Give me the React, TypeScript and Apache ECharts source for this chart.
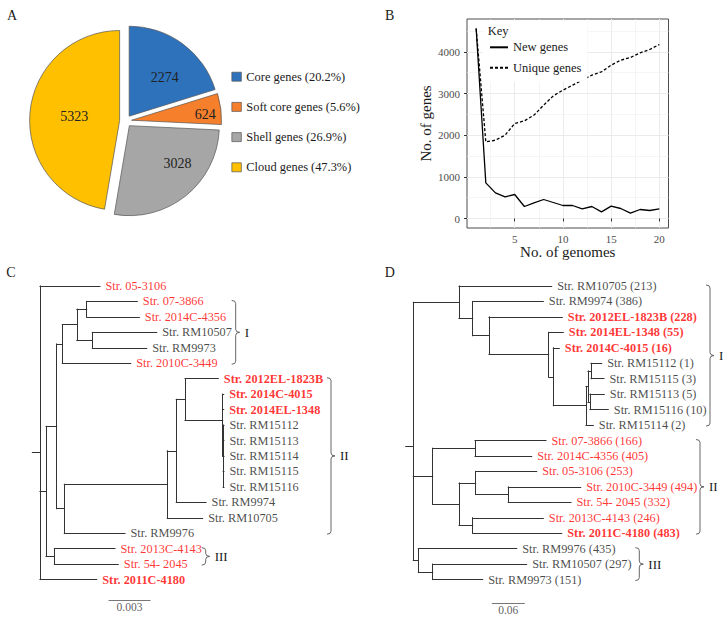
import React, { useEffect, useRef } from "react";
import * as echarts from "echarts";

const SERIF = '"Liberation Serif", "Times New Roman", Times, serif';
const INK = "#1a1a1a";
const RED = "#ff0000";
const BRANCH = "#333333";

// ---------- Panel A: pan-genome composition ----------
const pieCategories = [
  "Core genes (20.2%)",
  "Soft core genes (5.6%)",
  "Shell genes (26.9%)",
  "Cloud genes (47.3%)",
];
const pieValues = [2274, 624, 3028, 5323];
const pieColors = ["#2E72BC", "#F67F2B", "#A6A6A6", "#FFC000"];

// ---------- Panel B: gene accumulation ----------
const genomeCounts = [1, 2, 3, 4, 5, 6, 7, 8, 9, 10, 11, 12, 13, 14, 15, 16, 17, 18, 19, 20];
const newGenes = [4560, 856, 616, 520, 576, 288, 376, 456, 384, 312, 312, 232, 288, 160, 296, 240, 128, 216, 192, 232];
const uniqueGenes = [4560, 1840, 1880, 2000, 2280, 2344, 2480, 2720, 2944, 3080, 3200, 3320, 3440, 3520, 3680, 3800, 3864, 3976, 4056, 4176];
const curveNames = ["New genes", "Unique genes"];
const bYTicks = [0, 1000, 2000, 3000, 4000];
const bXTicks = [5, 10, 15, 20];
const bYMinor = [500, 1500, 2500, 3500, 4500];
const bXMinor = [2.5, 7.5, 12.5, 17.5];

// ---------- Panel C: tree (internal nodes: id, parent, depth) ----------
const treeCNodes: [string, string, number][] = [
  ["root", "", 0],
  ["c1", "root", 0.00044],
  ["c2", "c1", 0.00122],
  ["cI", "c2", 0.00163],
  ["c3", "cI", 0.00269],
  ["c4", "c3", 0.00342],
  ["c5", "c3", 0.00383],
  ["c6", "c2", 0.00178],
  ["c7", "c6", 0.00931],
  ["c8", "c7", 0.00997],
  ["c9", "c8", 0.01061],
  ["c10", "c9", 0.01337],
  ["c11", "c10", 0.0134],
  ["cIII", "c1", 0.00105],
];
// leaves: label, parent, depth, style (0 black, 1 red, 2 red bold)
const treeCLeaves: [string, string, number, number][] = [
  ["Str. 05-3106", "root", 0.00439, 1],
  ["Str. 07-3866", "c4", 0.00712, 1],
  ["Str. 2014C-4356", "c4", 0.00727, 1],
  ["Str. RM10507", "c5", 0.00854, 0],
  ["Str. RM9973", "c5", 0.00781, 0],
  ["Str. 2010C-3449", "cI", 0.00664, 1],
  ["Str. 2012EL-1823B", "c9", 0.01305, 2],
  ["Str. 2014C-4015", "c10", 0.01344, 2],
  ["Str. 2014EL-1348", "c10", 0.01344, 2],
  ["Str. RM15112", "c11", 0.01346, 0],
  ["Str. RM15113", "c11", 0.01346, 0],
  ["Str. RM15114", "c11", 0.01346, 0],
  ["Str. RM15115", "c11", 0.01346, 0],
  ["Str. RM15116", "c11", 0.01346, 0],
  ["Str. RM9974", "c8", 0.01215, 0],
  ["Str. RM10705", "c7", 0.0119, 0],
  ["Str. RM9976", "c6", 0.00622, 0],
  ["Str. 2013C-4143", "cIII", 0.00549, 1],
  ["Str. 54- 2045", "cIII", 0.00573, 1],
  ["Str. 2011C-4180", "root", 0.00415, 2],
];
const treeCRootEdge = 0.00056;
const treeCClades: [string, number, number][] = [
  ["I", 1, 5],
  ["II", 6, 16],
  ["III", 17, 18],
];
const treeCScale = { start: 0.00505, length: 0.003, label: "0.003" };

// ---------- Panel D: tree ----------
const treeDNodes: [string, string, number][] = [
  ["root", "", 0],
  ["d1", "root", 0.0857],
  ["d2", "d1", 0.1114],
  ["d3", "d2", 0.1419],
  ["d4", "d3", 0.2539],
  ["d5", "d4", 0.2625],
  ["d6", "d5", 0.3238],
  ["d7", "d6", 0.3276],
  ["d8", "d7", 0.3332],
  ["d9", "d7", 0.3313],
  ["dII", "root", 0.0364],
  ["d10", "dII", 0.1157],
  ["d11", "dII", 0.0857],
  ["d12", "d11", 0.117],
  ["d13", "d12", 0.1781],
  ["d14", "d11", 0.1114],
  ["dIII", "root", 0.0094],
  ["d15", "dIII", 0.0364],
];
const treeDLeaves: [string, string, number, number][] = [
  ["Str. RM10705 (213)", "d1", 0.2595, 0],
  ["Str. RM9974 (386)", "d2", 0.2438, 0],
  ["Str. 2012EL-1823B (228)", "d3", 0.2794, 2],
  ["Str. 2014EL-1348 (55)", "d4", 0.2813, 2],
  ["Str. 2014C-4015 (16)", "d5", 0.2738, 2],
  ["Str. RM15112 (1)", "d8", 0.3533, 0],
  ["Str. RM15115 (3)", "d8", 0.3576, 0],
  ["Str. RM15113 (5)", "d9", 0.3581, 0],
  ["Str. RM15116 (10)", "d9", 0.3656, 0],
  ["Str. RM15114 (2)", "d6", 0.3375, 0],
  ["Str. 07-3866 (166)", "d10", 0.2488, 1],
  ["Str. 2014C-4356 (405)", "d10", 0.222, 1],
  ["Str. 05-3106 (253)", "d12", 0.2314, 1],
  ["Str. 2010C-3449 (494)", "d13", 0.3139, 1],
  ["Str. 54- 2045 (332)", "d13", 0.2957, 1],
  ["Str. 2013C-4143 (246)", "d14", 0.2438, 1],
  ["Str. 2011C-4180 (483)", "d14", 0.2783, 2],
  ["Str. RM9976 (435)", "dIII", 0.1939, 0],
  ["Str. RM10507 (297)", "d15", 0.2126, 0],
  ["Str. RM9973 (151)", "d15", 0.1301, 0],
];
const treeDRootEdge = 0.0143;
const treeDClades: [string, number, number][] = [
  ["I", 0, 9],
  ["II", 10, 16],
  ["III", 17, 19],
];
const treeDScale = { start: 0.1481, length: 0.06, label: "0.06" };

// ---------- layout ----------
const ROW_TOP = 286;
const ROW_STEP = 15.45;
const ROW_MAX = 21;
const C_PX_PER_UNIT = 41 / 0.003;
const C_ROOT_PX = 40;
const C_LEFT = 30;
const C_WIDTH = 330;
const D_PX_PER_UNIT = 32 / 0.06;
const D_ROOT_PX = 413.3;
const D_LEFT = 400;
const D_WIDTH = 322;
const C_BRACKET_X = [235.7, 331, 205.7];
const D_BRACKET_X = [710, 700, 639.3];
const SCALE_ROW_C = 20.32;
const SCALE_ROW_D = 20.54;
const TIP_FONT = 12.3;

function buildTree(nodes: [string, string, number][], leaves: [string, string, number, number][], rootEdge: number) {
  const info: Record<string, any> = {};
  nodes.forEach(([id, parent, depth]) => (info[id] = { depth, parent, kids: [] as string[] }));
  leaves.forEach(([, parent, depth], i) => (info["leaf" + i] = { depth, parent, kids: [], y: i }));
  Object.keys(info).forEach((id) => {
    const p = info[id].parent;
    if (p) info[p].kids.push(id);
  });
  const getY = (id: string): number => {
    const n = info[id];
    if (n.y === undefined) {
      const ys = n.kids.map(getY);
      n.y = ys.reduce((a: number, b: number) => a + b, 0) / ys.length;
      n.minY = Math.min(...ys);
      n.maxY = Math.max(...ys);
    }
    return n.y;
  };
  getY("root");
  const segs: number[][][] = [];
  Object.keys(info).forEach((id) => {
    const n = info[id];
    if (n.parent) segs.push([[info[n.parent].depth, n.y], [n.depth, n.y]]);
    else segs.push([[n.depth - rootEdge, n.y], [n.depth, n.y]]);
    if (n.kids.length) segs.push([[n.depth, n.minY], [n.depth, n.maxY]]);
  });
  return segs;
}

function treeSeries(
  idx: number,
  nodes: [string, string, number][],
  leaves: [string, string, number, number][],
  rootEdge: number,
  clades: [string, number, number][],
  bracketX: number[],
  scale: { start: number; length: number; label: string },
  scaleRow: number
) {
  const segs = buildTree(nodes, leaves, rootEdge);
  const lineData = segs.map((s) => ({ coords: s }));
  lineData.push({
    coords: [
      [scale.start, scaleRow],
      [scale.start + scale.length, scaleRow],
    ],
    lineStyle: { color: "#777", width: 1 },
  } as any);
  return [
    {
      type: "lines",
      coordinateSystem: "cartesian2d",
      xAxisIndex: idx,
      yAxisIndex: idx,
      polyline: false,
      silent: true,
      clip: false,
      lineStyle: { color: BRANCH, width: 1, opacity: 1, curveness: 0, cap: "square" },
      data: lineData,
      z: 2,
    },
    {
      type: "scatter",
      xAxisIndex: idx,
      yAxisIndex: idx,
      symbolSize: 0,
      silent: true,
      clip: false,
      z: 3,
      label: {
        show: true,
        position: "right",
        distance: 5.5,
        formatter: "{b}",
        fontSize: TIP_FONT,
        fontFamily: SERIF,
      },
      data: leaves.map(([label, , depth, style], i) => ({
        name: label,
        value: [depth, i],
        label: { color: style ? RED : INK, fontWeight: style === 2 ? "bold" : "normal" },
      })),
    },
    {
      type: "scatter",
      xAxisIndex: idx,
      yAxisIndex: idx,
      symbolSize: 0,
      silent: true,
      clip: false,
      z: 3,
      label: {
        show: true,
        position: "bottom",
        distance: 1,
        formatter: "{b}",
        fontSize: 11.5,
        fontFamily: SERIF,
        color: "#333",
      },
      data: [{ name: scale.label, value: [scale.start + scale.length / 2, scaleRow] }],
    },
    {
      type: "custom",
      xAxisIndex: idx,
      yAxisIndex: idx,
      silent: true,
      clip: false,
      z: 3,
      data: clades.map(([, a, b], k) => [a, b, k]),
      renderItem: (params: any, api: any) => {
        const a = api.value(0);
        const b = api.value(1);
        const k = api.value(2);
        const y1 = api.coord([0, a])[1] - 1;
        const y2 = api.coord([0, b])[1] + 1;
        const bx = bracketX[k];
        const ym = (y1 + y2) / 2;
        const r = 3;
        const d =
          `M${bx - 4} ${y1} Q${bx} ${y1} ${bx} ${y1 + r} L${bx} ${ym - r} Q${bx} ${ym} ${bx + 4} ${ym} ` +
          `Q${bx} ${ym} ${bx} ${ym + r} L${bx} ${y2 - r} Q${bx} ${y2} ${bx - 4} ${y2}`;
        return {
          type: "group",
          children: [
            { type: "path", shape: { pathData: d }, style: { stroke: "#555", fill: "none", lineWidth: 0.9 } },
            {
              type: "text",
              x: bx + 9,
              y: ym,
              style: {
                text: clades[k][0],
                fontSize: 13,
                fontFamily: SERIF,
                fill: INK,
                verticalAlign: "middle",
                align: "left",
              },
            },
          ],
        };
      },
    },
  ];
}

export default function App() {
  const ref = useRef<HTMLDivElement>(null);
  useEffect(() => {
    if (!ref.current) return;
    const chart = echarts.init(ref.current, undefined, { renderer: "svg" });

    const pieLabelPad: number[][] = [
      [0, 0, 6, 14],
      [0, 0, 2, 52],
      [18, 0, 0, 36],
      [14, 0, 0, 5],
    ];

    const cXMin = (C_LEFT - C_ROOT_PX) / C_PX_PER_UNIT;
    const cXMax = cXMin + C_WIDTH / C_PX_PER_UNIT;
    const dXMin = (D_LEFT - D_ROOT_PX) / D_PX_PER_UNIT;
    const dXMax = dXMin + D_WIDTH / D_PX_PER_UNIT;

    const hiddenAxis = (grid: number, min: number, max: number, inverse = false) => ({
      type: "value",
      gridIndex: grid,
      min,
      max,
      inverse,
      show: false,
      splitLine: { show: false },
    });

    const letter = (text: string, x: number, y: number) => ({
      type: "text",
      x,
      y,
      z: 100,
      style: { text, fontSize: 14, fontFamily: SERIF, fill: INK, align: "center", verticalAlign: "middle" },
    });

    const option: any = {
      animation: false,
      backgroundColor: "#ffffff",
      textStyle: { fontFamily: SERIF },
      graphic: [
        letter("A", 12, 15),
        letter("B", 389.7, 15),
        letter("C", 10.8, 272.7),
        letter("D", 389.7, 272.7),
        { type: "text", x: 487.7, y: 31, z: 100, style: { text: "Key", fontSize: 12.5, fontFamily: SERIF, fill: INK, align: "left", verticalAlign: "middle" } },
      ],
      legend: [
        {
          data: pieCategories,
          orient: "vertical",
          left: 231.5,
          top: 69.7,
          padding: 0,
          itemWidth: 9.5,
          itemHeight: 9,
          itemGap: 16.2,
          icon: "rect",
          selectedMode: false,
          itemStyle: { borderColor: "#555", borderWidth: 0.7 },
          textStyle: { fontSize: 12.4, lineHeight: 14, color: INK, fontFamily: SERIF },
        },
        {
          data: curveNames,
          orient: "vertical",
          left: 483,
          top: 20,
          padding: [20.3, 6, 7, 6],
          backgroundColor: "#ffffff",
          itemWidth: 18,
          itemHeight: 10,
          itemGap: 6.4,
          selectedMode: false,
          itemStyle: { color: "rgba(0,0,0,0)", borderColor: "rgba(0,0,0,0)", borderWidth: 0 },
          textStyle: { fontSize: 12.5, lineHeight: 14, color: INK, fontFamily: SERIF },
        },
      ],
      grid: [
        { left: 467, top: 19, width: 201.5, height: 209, show: true, borderColor: "#4d4d4d", borderWidth: 1, backgroundColor: "transparent" },
        { left: C_LEFT, top: ROW_TOP, width: C_WIDTH, height: ROW_MAX * ROW_STEP, show: false },
        { left: D_LEFT, top: ROW_TOP, width: D_WIDTH, height: ROW_MAX * ROW_STEP, show: false },
      ],
      xAxis: [
        {
          type: "value",
          gridIndex: 0,
          min: 0.05,
          max: 20.95,
          axisLine: { show: false },
          axisTick: { show: true, length: 3, lineStyle: { color: "#333" }, customValues: bXTicks },
          axisLabel: {
            customValues: bXTicks,
            formatter: (v: number) => (bXTicks.includes(v) ? String(v) : ""),
            fontSize: 11,
            color: "#4d4d4d",
            margin: 5,
            fontFamily: SERIF,
          },
          splitLine: { show: true, lineStyle: { color: "#EBEBEB", width: 1 } },
          name: "No. of genomes",
          nameLocation: "middle",
          nameGap: 14,
          nameTextStyle: { fontSize: 15, color: INK, fontFamily: SERIF },
        },
        hiddenAxis(1, cXMin, cXMax),
        hiddenAxis(2, dXMin, dXMax),
      ],
      yAxis: [
        {
          type: "value",
          gridIndex: 0,
          min: -228,
          max: 4788,
          axisLine: { show: false },
          axisTick: { show: true, length: 3, lineStyle: { color: "#333" }, customValues: bYTicks },
          axisLabel: {
            customValues: bYTicks,
            formatter: (v: number) => (bYTicks.includes(v) ? String(v) : ""),
            fontSize: 11,
            color: "#4d4d4d",
            margin: 7,
            fontFamily: SERIF,
          },
          splitLine: { show: true, lineStyle: { color: "#EBEBEB", width: 1 } },
          name: "No. of genes",
          nameLocation: "middle",
          nameGap: 34,
          nameTextStyle: { fontSize: 15, color: INK, fontFamily: SERIF },
        },
        hiddenAxis(1, 0, ROW_MAX, true),
        hiddenAxis(2, 0, ROW_MAX, true),
      ],
      series: [
        {
          type: "pie",
          center: [125.6, 121],
          radius: 90,
          startAngle: 90,
          clockwise: true,
          selectedMode: "multiple",
          selectedOffset: 6,
          silent: true,
          emphasis: { disabled: true },
          itemStyle: { borderColor: "#555", borderWidth: 0.7 },
          label: {
            show: true,
            position: "inside",
            formatter: "{c}",
            fontSize: 14,
            color: "#222",
            fontFamily: SERIF,
          },
          labelLine: { show: false },
          data: pieCategories.map((name, i) => ({
            name,
            value: pieValues[i],
            selected: true,
            itemStyle: { color: pieColors[i] },
            label: { padding: pieLabelPad[i] },
          })),
        },
        {
          name: curveNames[0],
          type: "line",
          xAxisIndex: 0,
          yAxisIndex: 0,
          symbol: "none",
          silent: true,
          z: 3,
          itemStyle: { color: "#000" },
          lineStyle: { color: "#000", width: 1.3, type: "solid" },
          data: genomeCounts.map((g, i) => [g, newGenes[i]]),
          markLine: {
            silent: true,
            z: 1,
            symbol: ["none", "none"],
            label: { show: false },
            emphasis: { disabled: true },
            lineStyle: { color: "#EFEFEF", width: 0.6, type: "solid" },
            data: [...bXMinor.map((v) => ({ xAxis: v })), ...bYMinor.map((v) => ({ yAxis: v }))],
          },
        },
        {
          name: curveNames[1],
          type: "line",
          xAxisIndex: 0,
          yAxisIndex: 0,
          symbol: "none",
          silent: true,
          z: 3,
          itemStyle: { color: "#000" },
          lineStyle: { color: "#000", width: 1.3, type: [3, 2] },
          data: genomeCounts.map((g, i) => [g, uniqueGenes[i]]),
        },
        ...treeSeries(1, treeCNodes, treeCLeaves, treeCRootEdge, treeCClades, C_BRACKET_X, treeCScale, SCALE_ROW_C),
        ...treeSeries(2, treeDNodes, treeDLeaves, treeDRootEdge, treeDClades, D_BRACKET_X, treeDScale, SCALE_ROW_D),
      ],
    };
    chart.setOption(option);
    return () => chart.dispose();
  }, []);
  return <div ref={ref} style={{ position: "absolute", left: 0, top: 0, width: 728, height: 619 }} />;
}
